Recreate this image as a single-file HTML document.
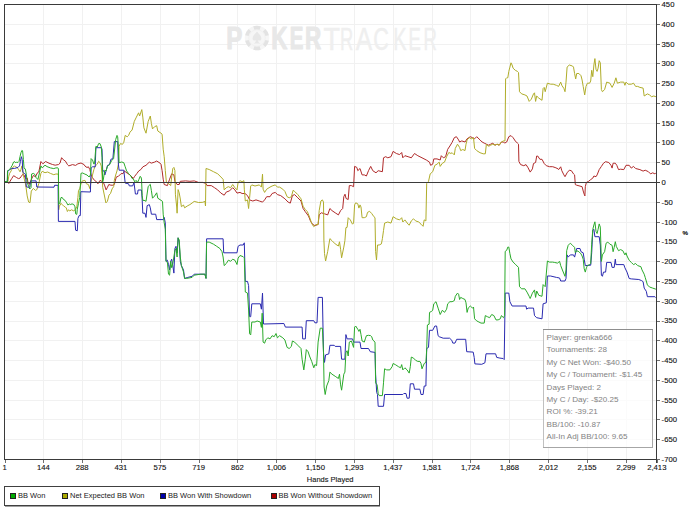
<!DOCTYPE html>
<html><head><meta charset="utf-8"><title>PokerTracker Graph</title>
<style>
html,body{margin:0;padding:0;background:#fff;}
body{width:700px;height:514px;overflow:hidden;position:relative;}
svg{position:absolute;left:0;top:0;display:block;}
text{font-family:"Liberation Sans",Arial,sans-serif;}
.ax{font-size:7.7px;fill:#111;stroke:#111;stroke-width:0.12px;}
.st{font-size:8.1px;fill:#838383;}
.lg{font-size:7.5px;fill:#1a1a1a;}
</style></head><body>
<svg width="700" height="514" viewBox="0 0 700 514">
<rect x="0" y="0" width="700" height="514" fill="#ffffff"/>

<g stroke="#f1f1f1" stroke-width="1" shape-rendering="crispEdges">
<line x1="5" y1="24.5" x2="656" y2="24.5"/>
<line x1="5" y1="44.5" x2="656" y2="44.5"/>
<line x1="5" y1="63.5" x2="656" y2="63.5"/>
<line x1="5" y1="83.5" x2="656" y2="83.5"/>
<line x1="5" y1="103.5" x2="656" y2="103.5"/>
<line x1="5" y1="123.5" x2="656" y2="123.5"/>
<line x1="5" y1="142.5" x2="656" y2="142.5"/>
<line x1="5" y1="162.5" x2="656" y2="162.5"/>
<line x1="5" y1="202.5" x2="656" y2="202.5"/>
<line x1="5" y1="222.5" x2="656" y2="222.5"/>
<line x1="5" y1="241.5" x2="656" y2="241.5"/>
<line x1="5" y1="261.5" x2="656" y2="261.5"/>
<line x1="5" y1="281.5" x2="656" y2="281.5"/>
<line x1="5" y1="301.5" x2="656" y2="301.5"/>
<line x1="5" y1="321.5" x2="656" y2="321.5"/>
<line x1="5" y1="340.5" x2="656" y2="340.5"/>
<line x1="5" y1="360.5" x2="656" y2="360.5"/>
<line x1="5" y1="380.5" x2="656" y2="380.5"/>
<line x1="5" y1="400.5" x2="656" y2="400.5"/>
<line x1="5" y1="419.5" x2="656" y2="419.5"/>
<line x1="5" y1="439.5" x2="656" y2="439.5"/>
<line x1="43.5" y1="5" x2="43.5" y2="459"/>
<line x1="82.5" y1="5" x2="82.5" y2="459"/>
<line x1="121.5" y1="5" x2="121.5" y2="459"/>
<line x1="160.5" y1="5" x2="160.5" y2="459"/>
<line x1="199.5" y1="5" x2="199.5" y2="459"/>
<line x1="237.5" y1="5" x2="237.5" y2="459"/>
<line x1="276.5" y1="5" x2="276.5" y2="459"/>
<line x1="315.5" y1="5" x2="315.5" y2="459"/>
<line x1="354.5" y1="5" x2="354.5" y2="459"/>
<line x1="393.5" y1="5" x2="393.5" y2="459"/>
<line x1="432.5" y1="5" x2="432.5" y2="459"/>
<line x1="470.5" y1="5" x2="470.5" y2="459"/>
<line x1="509.5" y1="5" x2="509.5" y2="459"/>
<line x1="548.5" y1="5" x2="548.5" y2="459"/>
<line x1="587.5" y1="5" x2="587.5" y2="459"/>
<line x1="626.5" y1="5" x2="626.5" y2="459"/>
</g>
<g id="wm">
<g fill="#e8e8e8" stroke="#e8e8e8" stroke-width="1.0" stroke-linejoin="round" font-family="Liberation Sans, Arial, sans-serif" font-weight="bold" font-size="31.0px">
<text transform="translate(226.18,49.1) scale(0.781,1)">P</text>
<text transform="translate(271.20,49.1) scale(0.724,1)">K</text>
<text transform="translate(289.63,49.1) scale(0.661,1)">E</text>
<text transform="translate(304.89,49.1) scale(0.726,1)">R</text>
</g>
<g fill="#efefef" stroke="#efefef" stroke-width="0.45" font-family="Liberation Sans, Arial, sans-serif" font-size="31.6px">
<text transform="translate(323.61,49.6) scale(0.855,1)">T</text>
<text transform="translate(339.90,49.6) scale(0.581,1)">R</text>
<text transform="translate(355.65,49.6) scale(0.778,1)">A</text>
<text transform="translate(373.20,49.6) scale(0.685,1)">C</text>
<text transform="translate(393.36,49.6) scale(0.634,1)">K</text>
<text transform="translate(408.49,49.6) scale(0.584,1)">E</text>
<text transform="translate(423.48,49.6) scale(0.586,1)">R</text>
</g>
<g transform="translate(257,38)">
<circle r="12.3" fill="#f6f6f6"/>
<circle r="8.3" fill="none" stroke="#f1f1f1" stroke-width="1"/>
<g fill="none" stroke="#e3e3e3" stroke-width="3.6">
<path d="M -3.2,-10.0 A 10.5,10.5 0 0 1 3.2,-10.0"/>
<path d="M -3.2,10.0 A 10.5,10.5 0 0 0 3.2,10.0"/>
<path d="M 7.1,-7.7 A 10.5,10.5 0 0 1 10.1,-2.4"/>
<path d="M -7.1,-7.7 A 10.5,10.5 0 0 0 -10.1,-2.4"/>
<path d="M 7.1,7.7 A 10.5,10.5 0 0 0 10.1,2.4"/>
<path d="M -7.1,7.7 A 10.5,10.5 0 0 1 -10.1,2.4"/>
</g>
<path d="M0,-6.6 C1.6,-4.2 4.4,-2.6 4.4,0.4 C4.4,2.6 2.0,3.2 0.7,2.0 L1.8,4.6 L3.4,5.4 L-3.4,5.4 L-1.8,4.6 L-0.7,2.0 C-2.0,3.2 -4.4,2.6 -4.4,0.4 C-4.4,-2.6 -1.6,-4.2 0,-6.6 Z" fill="#e7e7e7"/>
</g>
</g>
<polyline fill="none" stroke="#b02a2a" stroke-width="1" stroke-linejoin="round" points="5.0,181.5 7.3,182.0 8.8,183.5 10.2,181.0 11.7,178.6 13.6,175.7 15.1,176.6 16.6,177.6 18.5,178.6 20.0,178.1 21.4,176.2 22.9,174.2 23.9,174.7 24.8,177.1 25.8,178.6 27.3,178.1 27.9,182.2 29.3,184.3 31.3,179.5 33.4,175.4 35.4,176.8 37.5,172.7 38.8,172.0 40.9,161.5 42.9,163.8 45.6,161.5 49.0,163.2 52.5,164.5 55.2,165.2 58.6,164.5 60.0,163.2 61.6,157.7 63.4,159.8 65.4,161.1 67.4,164.5 68.8,165.9 72.5,164.6 75.6,165.4 77.9,163.8 81.0,163.0 84.1,164.6 85.0,166.1 87.0,167.5 88.4,166.8 89.8,169.5 91.1,175.0 92.5,177.7 94.5,180.4 96.6,181.8 97.9,183.8 100.0,180.4 101.3,181.1 103.4,182.5 104.8,185.9 106.1,189.9 107.5,187.2 108.8,184.5 110.9,185.2 112.9,185.2 114.3,184.5 115.0,181.8 116.3,177.0 118.4,176.3 119.7,175.0 121.1,173.6 123.1,173.6 124.5,170.9 125.9,172.2 127.9,173.6 130.0,175.0 132.0,177.0 133.4,178.4 134.7,176.3 136.8,173.6 138.8,170.9 140.9,169.5 142.9,166.8 146.0,165.3 149.3,162.1 151.4,163.1 154.6,162.1 156.7,161.0 160.0,163.1 161.0,164.2 162.1,170.6 163.2,179.2 164.2,184.5 167.4,185.6 169.6,179.2 171.7,173.8 173.9,174.9 174.9,181.3 177.1,184.5 179.2,184.5 180.3,181.3 185.6,180.9 189.9,181.3 194.2,180.9 198.5,182.4 202.8,182.4 206.0,183.5 207.0,185.6 211.3,185.6 214.5,187.7 217.7,189.9 220.9,193.1 224.2,195.2 226.3,192.0 229.5,190.9 232.7,187.7 234.9,189.9 237.0,193.1 240.0,192.4 242.1,193.5 245.0,193.5 247.5,195.6 249.6,199.9 252.8,201.0 256.0,199.9 259.3,201.0 262.5,202.1 264.6,199.9 266.7,196.7 270.0,196.7 272.1,193.5 275.3,192.4 277.4,194.6 280.7,195.6 284.9,198.8 288.1,202.1 290.3,203.1 292.4,195.6 294.6,194.6 297.8,197.8 301.0,201.0 303.1,208.5 305.3,211.7 308.5,216.0 310.6,221.3 312.8,224.5 314.9,225.6 318.1,224.5 319.2,214.9 321.3,212.8 324.5,213.8 327.7,214.9 329.9,208.5 332.0,210.6 335.2,212.8 338.4,214.9 340.6,210.6 342.7,208.5 343.8,196.7 345.0,194.2 346.1,198.5 348.2,199.5 349.3,185.6 351.4,185.6 353.6,186.7 354.6,166.4 356.8,167.4 357.8,170.7 360.0,168.5 362.1,174.9 364.3,174.9 366.4,176.0 368.5,170.7 370.7,166.4 372.8,170.7 376.0,172.8 378.2,170.7 382.4,171.7 383.5,157.8 385.7,156.7 387.8,157.8 391.0,156.7 393.1,151.4 396.4,153.5 399.6,154.6 401.7,152.5 402.8,157.8 404.9,155.7 408.1,156.7 411.3,157.8 414.5,153.5 417.8,155.7 422.0,157.8 426.3,160.0 429.5,162.1 430.6,165.3 432.7,164.2 433.8,158.9 437.0,158.9 440.2,160.0 441.3,155.7 443.4,157.8 445.6,156.7 447.7,149.3 449.9,146.0 452.0,142.5 454.3,137.7 456.4,136.7 458.6,139.9 459.6,142.0 461.8,140.9 465.0,142.0 467.1,138.8 470.3,136.7 472.5,137.7 474.6,138.8 476.7,136.7 480.0,139.9 482.1,142.0 484.2,143.1 486.4,144.2 488.5,145.2 490.7,144.2 492.8,143.1 494.9,145.2 497.1,144.2 499.2,145.2 501.4,142.0 503.5,142.0 504.6,143.1 506.7,142.0 508.8,136.7 511.0,135.6 513.1,137.7 515.3,141.0 517.4,143.1 518.5,144.2 518.9,161.4 520.6,164.6 523.8,165.7 526.0,164.6 528.1,167.8 530.2,172.1 532.4,168.9 533.5,163.5 535.6,162.5 536.7,156.0 537.7,156.0 539.9,159.3 542.0,159.3 544.2,163.5 546.3,165.7 549.5,166.7 552.7,166.7 555.9,167.8 558.1,168.9 558.6,169.6 560.7,166.8 561.8,170.7 563.9,174.9 565.0,176.7 567.1,172.8 569.3,170.2 571.4,170.7 573.5,173.9 574.6,174.9 575.3,184.6 576.7,185.2 580.0,186.1 582.1,186.7 583.2,191.0 584.2,194.2 584.9,195.9 585.3,186.7 586.4,182.4 588.5,181.4 590.7,179.6 592.8,178.1 593.9,176.0 596.0,176.7 597.1,174.9 599.2,169.6 601.4,166.4 603.5,163.2 605.6,161.7 608.8,162.5 611.0,165.3 612.1,168.1 613.1,163.2 615.3,163.2 616.8,165.3 618.5,169.6 620.6,169.2 623.8,169.6 626.0,165.3 629.2,165.3 631.3,168.1 633.5,166.4 635.6,168.5 639.9,169.6 643.1,171.1 645.2,170.2 648.4,171.7 650.6,173.9 652.7,172.8 654.9,173.9 655.9,172.8"/>
<polyline fill="none" stroke="#b0ad2a" stroke-width="1" stroke-linejoin="round" points="5.0,181.5 7.8,182.0 8.8,176.2 9.7,173.2 11.2,170.8 12.7,167.4 14.6,165.9 15.6,166.9 17.0,167.4 18.5,169.3 20.0,171.8 20.9,169.8 21.9,165.9 22.4,168.4 23.4,175.2 24.3,179.1 25.3,183.0 26.1,187.8 27.2,195.9 28.6,202.0 30.0,202.7 31.3,191.1 33.4,188.4 35.4,190.4 36.8,189.7 38.8,183.6 40.9,173.4 42.2,171.3 45.0,172.7 47.7,172.0 50.4,173.4 53.8,174.7 55.9,174.0 57.9,174.0 58.4,175.0 58.7,209.8 59.3,205.7 60.4,205.1 61.0,203.3 62.2,204.5 63.9,206.3 65.1,206.8 66.3,208.0 67.4,211.5 68.6,209.8 69.8,210.9 71.5,209.8 73.8,210.9 75.6,209.2 76.8,206.8 77.9,197.5 78.5,190.5 79.7,188.8 80.8,184.7 82.0,181.2 84.9,180.3 86.4,183.8 88.4,184.5 89.8,188.6 91.1,181.8 92.5,175.0 93.9,169.5 95.2,166.1 97.3,164.1 98.6,161.3 100.0,162.7 101.3,166.1 102.0,175.0 102.7,187.2 104.1,194.0 105.9,202.9 107.4,201.3 109.0,195.1 110.5,193.5 112.1,188.9 113.7,186.5 114.3,180.4 115.7,175.0 117.0,170.9 118.4,164.1 119.1,146.3 120.4,143.6 122.5,144.3 123.8,142.3 125.2,135.4 127.2,136.8 128.6,135.4 130.0,132.1 132.1,130.0 134.3,121.4 136.4,117.1 138.6,112.8 139.6,116.0 141.8,109.6 142.8,117.1 143.9,127.8 146.0,133.2 148.2,121.4 150.3,116.0 151.4,123.5 152.5,128.9 154.6,126.7 156.7,125.7 157.8,131.0 161.0,133.2 162.1,134.2 163.2,149.2 164.2,156.7 165.3,170.6 166.4,182.4 168.5,183.5 170.7,185.6 171.7,177.0 172.8,168.5 173.9,167.4 174.9,170.6 175.4,194.2 176.7,207.0 177.1,213.2 178.1,189.6 179.2,192.8 180.3,199.0 181.4,206.7 183.5,205.0 184.6,207.8 187.8,205.7 189.9,204.6 192.1,203.0 194.2,201.4 198.5,202.5 202.8,202.3 204.9,201.4 205.5,206.0 206.0,168.5 209.2,169.5 213.5,171.7 217.7,173.8 222.0,178.1 223.1,179.2 224.2,189.9 226.3,187.7 228.4,186.7 230.6,187.7 232.7,184.5 234.9,187.7 237.0,189.9 238.1,182.4 240.0,180.7 242.1,181.7 243.9,180.7 244.3,189.2 245.3,201.0 247.5,199.9 248.6,208.5 249.6,197.8 250.7,186.0 251.8,184.9 255.0,186.0 259.3,184.9 261.4,187.1 262.5,174.2 263.1,189.2 264.6,192.4 266.7,189.2 270.0,187.1 272.1,186.0 275.3,184.9 277.4,187.1 279.6,187.1 282.8,189.2 284.9,191.4 287.1,196.7 289.2,197.8 291.4,196.7 293.1,190.3 294.6,191.4 297.8,194.6 301.0,198.8 303.1,206.3 305.3,209.5 307.4,211.7 309.5,217.0 311.7,223.5 313.8,226.7 316.0,224.5 318.1,224.5 319.2,210.6 320.9,201.0 322.4,199.9 323.5,202.1 323.9,240.0 324.5,253.5 325.6,261.0 327.7,251.4 329.9,238.6 332.0,240.7 335.2,243.9 338.4,246.0 339.5,241.8 340.6,249.3 341.6,257.8 343.8,247.1 344.9,240.7 345.9,227.7 347.1,227.4 348.2,217.7 350.3,219.9 352.5,224.2 353.6,223.1 354.6,204.9 355.7,202.8 357.8,203.8 358.9,208.1 360.0,204.9 361.0,207.0 362.1,217.7 364.3,217.7 366.4,216.7 367.5,212.4 369.6,211.3 371.7,213.5 373.9,216.7 375.0,217.7 375.6,251.4 376.5,260.0 377.5,245.0 379.2,245.0 381.4,243.9 382.4,238.6 383.5,230.6 384.6,223.1 387.8,222.0 391.0,223.1 393.1,216.7 396.4,218.8 399.6,219.9 401.7,217.7 402.8,222.0 404.9,219.9 408.1,224.2 409.2,225.2 411.3,220.9 413.5,218.8 415.6,220.9 418.8,222.0 421.0,224.2 423.1,226.3 424.2,219.9 425.9,220.9 426.7,183.5 428.5,181.4 430.2,173.9 432.7,171.7 434.9,165.3 437.0,164.2 439.2,162.1 440.2,166.4 442.4,163.2 444.5,162.1 446.6,156.7 448.8,152.5 450.9,153.5 452.1,152.7 454.3,154.9 455.3,148.4 457.5,144.2 459.6,147.4 460.7,150.6 462.8,149.5 465.0,150.6 466.0,144.2 467.1,139.9 469.3,137.7 471.4,138.8 473.5,137.7 474.6,148.4 476.7,150.6 480.0,152.7 483.2,153.8 485.3,153.8 486.4,144.2 488.5,146.3 490.7,145.2 492.8,144.2 494.9,145.2 497.1,144.2 499.2,145.2 501.4,142.0 503.5,140.9 505.0,140.9 505.6,78.9 506.7,77.8 507.8,77.8 508.8,71.4 509.9,67.1 511.0,62.8 512.1,65.0 513.1,68.2 515.3,70.3 517.4,71.4 518.5,72.5 519.5,91.7 521.7,93.9 524.9,94.9 527.0,96.0 529.2,101.4 531.3,99.2 533.5,93.9 534.5,92.8 535.6,101.4 536.7,96.0 538.8,98.1 542.0,100.3 543.1,88.5 544.2,87.4 545.2,91.7 547.4,83.2 550.6,84.2 553.2,84.2 556.4,85.3 558.6,86.4 560.7,82.1 561.8,85.3 563.9,88.5 565.0,91.7 566.0,82.1 567.1,67.1 569.3,65.0 572.5,66.0 573.5,67.1 574.6,73.5 575.7,78.9 576.7,73.5 578.9,73.5 581.0,75.7 582.1,80.0 583.2,86.4 584.7,94.9 586.0,86.4 587.4,83.2 589.6,83.2 590.7,81.0 591.7,70.3 592.8,76.7 593.9,65.0 594.9,58.6 596.0,69.3 597.1,71.4 598.1,68.2 599.2,60.7 600.3,62.8 601.4,89.6 602.4,91.7 604.6,89.6 606.7,82.1 609.9,83.2 612.1,87.4 614.2,83.2 615.9,77.8 617.4,83.2 620.6,82.1 623.8,82.1 624.9,85.3 626.0,82.1 628.1,84.2 631.3,84.2 633.5,83.2 635.6,86.4 637.7,86.4 639.9,87.4 643.1,88.1 644.2,96.0 647.4,93.9 649.5,94.9 651.6,96.7 653.8,96.0 655.9,96.7"/>
<polyline fill="none" stroke="#2a2ab0" stroke-width="1" stroke-linejoin="round" points="5.0,181.5 7.3,181.5 7.8,170.8 9.7,169.8 11.7,168.4 14.6,168.4 18.0,167.4 19.5,165.9 20.4,161.5 21.4,156.7 22.2,159.6 22.9,172.3 23.9,173.2 24.8,173.7 25.5,174.2 26.3,186.9 29.7,187.4 30.7,180.9 36.1,180.9 36.8,187.0 54.0,187.2 54.6,185.3 58.1,185.3 58.4,221.4 75.0,221.4 75.6,230.2 77.3,230.8 77.9,218.5 79.1,215.6 80.3,215.6 80.8,191.7 90.4,192.0 91.1,168.1 92.5,166.8 95.2,166.8 95.9,147.7 101.3,147.7 102.0,149.1 102.7,170.9 104.1,170.9 104.8,175.0 106.1,170.9 107.5,165.4 109.5,164.7 110.9,159.3 112.9,158.6 114.3,141.6 117.7,141.6 118.4,164.1 119.1,170.2 123.8,170.2 125.2,183.1 128.6,183.8 129.3,185.9 132.7,185.9 134.0,182.5 135.4,194.0 137.5,194.0 138.1,190.0 141.5,190.0 142.2,200.0 142.8,213.2 145.0,213.2 146.0,217.4 147.1,205.7 149.3,204.6 150.3,207.8 151.4,214.2 155.7,214.2 156.7,219.6 163.2,219.6 164.2,217.4 165.3,222.8 166.0,261.3 167.4,260.2 168.5,264.5 169.6,269.9 170.7,261.3 171.7,259.2 172.8,265.6 173.9,273.1 174.9,248.5 176.0,246.3 177.1,252.8 178.1,237.8 179.2,242.1 180.3,261.3 181.4,265.6 183.5,269.9 184.6,278.4 187.8,277.4 192.1,276.3 194.2,274.2 204.9,274.2 206.0,278.4 206.6,238.8 223.1,238.8 223.7,252.8 237.0,252.8 238.1,246.3 240.0,245.0 243.2,245.0 244.3,242.8 245.3,281.4 247.5,281.4 248.6,285.6 249.6,316.7 250.7,316.7 251.8,303.8 260.3,303.8 261.4,309.2 262.5,293.1 263.5,324.0 283.9,323.5 285.4,327.1 302.1,327.1 302.7,338.9 305.3,338.9 306.3,320.7 313.8,320.7 314.9,322.8 317.0,322.8 318.1,297.4 322.4,297.4 323.5,352.8 324.5,362.4 325.6,354.9 328.8,353.9 329.9,345.3 334.2,345.3 335.2,346.4 340.6,346.4 341.6,359.2 344.9,359.2 345.9,334.6 347.1,338.9 352.5,338.9 353.6,342.1 360.0,342.1 361.0,348.5 368.5,348.5 370.3,351.7 375.0,352.4 375.6,374.2 376.7,392.4 377.5,394.5 378.2,406.3 383.5,406.3 384.6,394.5 402.8,394.5 403.8,393.5 406.0,393.5 407.1,398.2 409.2,398.2 410.3,383.8 413.5,383.8 414.5,389.2 419.9,389.2 421.0,394.5 423.1,394.5 424.2,386.0 425.9,386.0 426.7,348.5 428.5,347.4 429.5,330.3 432.7,330.3 434.9,326.0 436.6,326.0 438.1,335.7 439.2,336.7 443.2,338.2 449.6,338.2 451.8,340.3 452.8,343.1 455.0,343.1 456.7,339.3 465.7,339.3 466.7,351.7 473.2,352.1 474.2,357.4 474.9,363.9 481.7,364.3 484.9,362.8 486.0,353.8 495.6,353.8 496.7,357.4 499.9,358.1 503.1,358.5 504.2,359.6 504.8,320.0 505.2,293.1 508.8,293.1 509.9,301.7 512.1,306.0 526.0,306.0 526.6,309.2 528.1,308.1 533.5,308.1 534.5,315.6 536.7,317.7 542.0,318.8 543.1,303.8 546.3,302.8 547.4,276.0 550.6,276.0 556.4,277.4 559.6,278.0 560.7,281.0 565.0,281.0 566.0,278.5 567.1,254.9 568.2,257.1 570.3,254.9 573.5,254.9 574.6,257.1 576.7,248.5 580.0,248.5 581.0,251.7 583.2,252.8 584.2,259.2 585.3,265.6 590.7,265.2 591.7,252.8 592.8,230.3 593.9,229.3 594.9,236.7 599.2,236.7 600.3,245.0 601.4,275.3 602.4,276.3 603.5,272.1 605.6,272.1 606.7,262.4 611.0,262.4 612.1,267.4 614.2,267.4 615.3,259.2 615.9,264.6 623.8,264.6 624.9,267.8 627.0,272.1 629.2,278.5 631.3,278.9 638.8,279.5 641.6,280.6 643.1,281.7 644.2,288.1 646.3,291.3 647.4,296.7 654.9,296.7 655.9,297.7"/>
<polyline fill="none" stroke="#2aaa2a" stroke-width="1" stroke-linejoin="round" points="5.0,181.5 7.3,181.5 7.5,170.8 8.3,170.5 9.7,169.3 10.7,167.9 12.2,165.4 13.6,162.0 14.6,161.5 15.6,163.0 16.6,162.0 18.0,162.5 19.0,161.5 20.0,156.7 20.9,152.8 21.9,150.4 22.6,150.8 23.4,159.6 24.1,168.4 25.3,168.9 26.3,174.2 27.2,182.2 28.6,186.3 29.7,189.0 31.0,187.7 31.6,174.0 33.4,173.4 35.1,174.7 36.1,177.5 37.9,179.5 39.5,172.7 40.9,165.9 42.2,167.9 45.0,165.2 47.0,166.6 50.4,167.9 53.8,168.6 55.9,167.9 57.9,167.9 58.4,168.6 58.7,204.5 59.8,203.3 61.0,197.5 62.2,197.5 63.3,199.3 65.1,200.4 66.3,202.2 68.0,205.1 69.2,203.9 70.3,204.5 72.1,203.9 73.8,204.5 75.0,206.8 75.6,213.8 76.8,214.4 77.3,209.2 78.5,203.3 79.7,197.5 80.3,187.0 81.0,173.3 82.6,173.0 84.9,174.1 87.0,175.0 89.1,177.0 90.4,175.0 91.1,158.6 92.5,160.0 93.9,164.1 94.6,163.0 95.9,146.3 97.3,147.0 98.6,143.6 100.0,143.6 101.3,147.0 102.0,157.2 102.7,181.8 103.4,179.0 104.8,170.2 106.1,170.9 107.5,166.1 109.5,164.7 111.6,160.7 113.6,158.6 115.7,139.5 117.0,135.4 117.7,136.8 118.4,147.7 119.1,162.7 121.8,162.0 123.8,162.7 125.2,166.8 126.6,170.9 128.6,173.6 130.6,175.6 132.0,178.4 133.4,179.0 134.7,181.8 136.1,180.4 137.5,182.5 138.8,179.7 140.2,176.3 140.9,177.0 141.5,179.0 142.2,195.4 142.8,200.3 145.0,200.6 146.0,201.4 148.2,186.4 150.3,184.3 151.4,190.7 152.5,198.2 154.6,196.0 156.7,192.8 157.8,198.2 161.0,200.3 162.5,201.4 163.2,214.2 164.2,222.8 165.3,229.2 166.0,261.3 167.4,262.4 168.5,274.2 169.6,275.2 170.7,261.3 171.7,267.7 172.8,263.5 174.9,250.6 176.0,248.5 177.1,257.0 178.1,237.8 179.2,239.9 180.3,257.0 181.4,265.6 183.5,272.0 184.6,278.4 186.7,278.4 192.1,277.4 194.2,275.2 200.6,274.2 204.9,274.2 206.0,278.4 206.6,242.1 209.2,242.1 213.5,244.2 216.7,246.3 219.9,248.5 222.0,251.7 223.1,257.0 224.2,265.6 226.3,263.5 228.4,260.2 230.6,261.3 232.7,259.2 235.0,260.3 237.0,264.5 238.1,258.1 240.0,255.5 243.2,256.7 244.3,257.8 245.3,292.0 247.5,293.1 248.6,310.0 249.6,333.8 250.7,334.9 251.8,322.0 255.0,322.0 257.1,321.0 260.3,322.0 261.4,327.4 262.2,313.2 263.1,342.1 264.6,343.2 265.7,340.0 267.8,337.8 270.0,338.9 272.1,335.7 274.2,336.7 276.0,333.5 277.4,337.8 279.6,335.7 282.8,337.8 284.9,340.0 287.1,347.4 289.2,348.5 291.4,346.4 292.4,341.0 294.6,342.1 297.8,345.3 301.0,348.5 302.1,359.2 303.8,369.9 305.3,359.2 306.3,349.6 308.1,351.7 309.5,356.0 311.7,361.4 313.8,367.8 314.9,364.6 316.6,365.6 318.1,342.1 320.2,328.2 322.4,328.2 323.5,352.8 324.1,387.0 325.2,394.5 326.7,386.0 328.8,380.6 329.9,372.1 332.0,374.2 335.2,376.3 338.4,378.5 339.5,374.2 340.6,384.9 341.6,390.2 343.8,374.2 344.9,372.1 345.9,352.8 347.1,350.7 348.2,356.0 349.3,342.1 351.4,341.0 353.6,347.4 354.6,327.1 355.7,326.0 357.8,329.3 358.9,331.4 360.0,329.3 361.0,334.6 362.1,341.0 364.3,342.1 365.3,338.9 366.4,335.7 368.5,335.3 370.7,335.7 371.7,336.7 372.8,340.0 375.0,342.1 375.6,382.8 377.1,384.9 378.2,393.5 379.2,395.6 382.4,395.6 383.5,382.8 384.6,368.8 386.7,369.9 389.9,369.9 392.1,366.7 393.1,363.5 395.3,364.6 398.5,366.7 400.6,367.8 401.7,364.6 402.8,369.9 404.9,367.8 407.1,369.9 409.2,373.1 410.3,366.7 411.3,357.1 413.5,358.1 415.6,360.3 417.8,361.4 419.9,361.4 421.0,363.5 422.0,368.8 424.2,363.5 425.9,362.4 426.7,349.6 427.4,325.0 429.1,324.2 429.5,312.4 431.7,311.3 432.7,310.2 433.8,303.8 436.0,301.7 438.1,308.1 440.2,314.5 442.4,310.2 444.5,312.4 446.6,309.2 447.7,303.8 449.9,301.7 452.1,301.7 454.3,300.6 455.3,296.3 457.5,293.1 458.6,294.2 459.6,299.5 460.7,297.4 462.8,298.5 465.0,299.5 466.0,302.8 467.1,312.4 468.2,308.1 470.3,306.0 472.5,308.1 473.5,307.0 474.6,318.8 476.7,320.9 478.9,322.0 481.0,323.1 484.2,323.1 485.3,315.6 487.4,316.7 489.6,317.7 491.7,314.5 493.9,315.6 496.0,319.9 498.1,319.9 500.3,318.8 501.4,315.6 503.5,317.7 504.6,315.6 505.2,251.4 506.7,250.3 507.8,247.1 508.8,247.1 509.9,253.5 511.0,258.9 513.1,262.1 515.3,264.2 518.5,267.4 519.5,286.7 521.7,288.8 524.9,288.8 527.0,292.1 529.2,296.3 530.2,298.5 532.4,293.1 534.5,289.9 535.6,297.4 536.7,291.0 538.8,295.3 542.0,296.3 543.1,284.6 545.2,286.7 547.4,261.0 549.5,262.1 552.7,262.1 554.3,262.4 557.5,263.1 559.6,261.4 560.7,265.6 562.8,271.0 565.0,276.3 566.0,269.9 566.7,250.7 568.2,245.3 570.3,243.2 572.5,245.3 574.6,247.4 575.3,252.8 576.7,250.7 578.9,251.7 581.0,253.9 582.1,256.0 583.2,259.2 584.2,268.8 585.3,272.1 586.4,267.8 587.4,265.6 589.6,264.6 590.7,263.5 591.7,244.2 592.8,229.3 593.9,225.0 594.9,221.8 596.0,231.4 597.1,233.5 598.1,229.3 599.2,223.9 600.3,227.1 601.4,261.4 602.4,254.9 604.6,251.7 606.1,243.2 607.8,242.1 609.9,244.2 612.1,245.3 613.1,251.7 614.2,247.4 615.3,241.7 616.3,246.4 618.5,250.7 620.6,249.6 622.8,250.7 624.9,254.9 626.0,252.8 627.0,256.0 629.2,260.3 631.3,262.4 633.5,264.6 635.6,263.5 637.7,265.6 640.9,266.7 642.0,269.9 644.2,274.2 645.2,277.4 647.4,284.9 649.5,287.0 652.7,288.1 655.9,289.2"/>
<g stroke="#3a3a3a" stroke-width="1" shape-rendering="crispEdges">
<line x1="5" y1="182.5" x2="660" y2="182.5"/>
<line x1="4" y1="4.5" x2="660" y2="4.5"/>
<line x1="4.5" y1="4" x2="4.5" y2="460"/>
<line x1="4" y1="459.5" x2="657" y2="459.5"/>
<line x1="656.5" y1="4" x2="656.5" y2="463"/>
<line x1="657" y1="4.5" x2="660" y2="4.5" stroke="#707070"/>
<line x1="657" y1="24.5" x2="660" y2="24.5" stroke="#707070"/>
<line x1="657" y1="44.5" x2="660" y2="44.5" stroke="#707070"/>
<line x1="657" y1="63.5" x2="660" y2="63.5" stroke="#707070"/>
<line x1="657" y1="83.5" x2="660" y2="83.5" stroke="#707070"/>
<line x1="657" y1="103.5" x2="660" y2="103.5" stroke="#707070"/>
<line x1="657" y1="123.5" x2="660" y2="123.5" stroke="#707070"/>
<line x1="657" y1="142.5" x2="660" y2="142.5" stroke="#707070"/>
<line x1="657" y1="162.5" x2="660" y2="162.5" stroke="#707070"/>
<line x1="657" y1="182.5" x2="660" y2="182.5" stroke="#707070"/>
<line x1="657" y1="202.5" x2="660" y2="202.5" stroke="#707070"/>
<line x1="657" y1="222.5" x2="660" y2="222.5" stroke="#707070"/>
<line x1="657" y1="241.5" x2="660" y2="241.5" stroke="#707070"/>
<line x1="657" y1="261.5" x2="660" y2="261.5" stroke="#707070"/>
<line x1="657" y1="281.5" x2="660" y2="281.5" stroke="#707070"/>
<line x1="657" y1="301.5" x2="660" y2="301.5" stroke="#707070"/>
<line x1="657" y1="321.5" x2="660" y2="321.5" stroke="#707070"/>
<line x1="657" y1="340.5" x2="660" y2="340.5" stroke="#707070"/>
<line x1="657" y1="360.5" x2="660" y2="360.5" stroke="#707070"/>
<line x1="657" y1="380.5" x2="660" y2="380.5" stroke="#707070"/>
<line x1="657" y1="400.5" x2="660" y2="400.5" stroke="#707070"/>
<line x1="657" y1="419.5" x2="660" y2="419.5" stroke="#707070"/>
<line x1="657" y1="439.5" x2="660" y2="439.5" stroke="#707070"/>
<line x1="657" y1="459.5" x2="660" y2="459.5" stroke="#707070"/>
<line x1="5.5" y1="460" x2="5.5" y2="463" stroke="#707070"/>
<line x1="43.5" y1="460" x2="43.5" y2="463" stroke="#707070"/>
<line x1="82.5" y1="460" x2="82.5" y2="463" stroke="#707070"/>
<line x1="121.5" y1="460" x2="121.5" y2="463" stroke="#707070"/>
<line x1="160.5" y1="460" x2="160.5" y2="463" stroke="#707070"/>
<line x1="199.5" y1="460" x2="199.5" y2="463" stroke="#707070"/>
<line x1="237.5" y1="460" x2="237.5" y2="463" stroke="#707070"/>
<line x1="276.5" y1="460" x2="276.5" y2="463" stroke="#707070"/>
<line x1="315.5" y1="460" x2="315.5" y2="463" stroke="#707070"/>
<line x1="354.5" y1="460" x2="354.5" y2="463" stroke="#707070"/>
<line x1="393.5" y1="460" x2="393.5" y2="463" stroke="#707070"/>
<line x1="432.5" y1="460" x2="432.5" y2="463" stroke="#707070"/>
<line x1="470.5" y1="460" x2="470.5" y2="463" stroke="#707070"/>
<line x1="509.5" y1="460" x2="509.5" y2="463" stroke="#707070"/>
<line x1="548.5" y1="460" x2="548.5" y2="463" stroke="#707070"/>
<line x1="587.5" y1="460" x2="587.5" y2="463" stroke="#707070"/>
<line x1="626.5" y1="460" x2="626.5" y2="463" stroke="#707070"/>
<line x1="657.5" y1="460" x2="657.5" y2="463" stroke="#707070"/>
<line x1="656" y1="182.5" x2="660" y2="182.5"/>
</g>
<g class="ax">
<text class="ax" x="661.6" y="6.9">450</text>
<text class="ax" x="661.6" y="26.7">400</text>
<text class="ax" x="661.6" y="46.5">350</text>
<text class="ax" x="661.6" y="66.2">300</text>
<text class="ax" x="661.6" y="86.0">250</text>
<text class="ax" x="661.6" y="105.8">200</text>
<text class="ax" x="661.6" y="125.6">150</text>
<text class="ax" x="661.6" y="145.4">100</text>
<text class="ax" x="661.6" y="165.2">50</text>
<text class="ax" x="661.6" y="184.9">0</text>
<text class="ax" x="661.6" y="204.7">-50</text>
<text class="ax" x="661.6" y="224.5">-100</text>
<text class="ax" x="661.6" y="244.3">-150</text>
<text class="ax" x="661.6" y="264.1">-200</text>
<text class="ax" x="661.6" y="283.9">-250</text>
<text class="ax" x="661.6" y="303.6">-300</text>
<text class="ax" x="661.6" y="323.4">-350</text>
<text class="ax" x="661.6" y="343.2">-400</text>
<text class="ax" x="661.6" y="363.0">-450</text>
<text class="ax" x="661.6" y="382.8">-500</text>
<text class="ax" x="661.6" y="402.6">-550</text>
<text class="ax" x="661.6" y="422.3">-600</text>
<text class="ax" x="661.6" y="442.1">-650</text>
<text class="ax" x="661.6" y="461.9">-700</text>
<text class="ax" x="4.6" y="470.3" text-anchor="middle">1</text>
<text class="ax" x="43.3" y="470.3" text-anchor="middle">144</text>
<text class="ax" x="82.2" y="470.3" text-anchor="middle">288</text>
<text class="ax" x="120.9" y="470.3" text-anchor="middle">431</text>
<text class="ax" x="159.8" y="470.3" text-anchor="middle">575</text>
<text class="ax" x="198.7" y="470.3" text-anchor="middle">719</text>
<text class="ax" x="237.4" y="470.3" text-anchor="middle">862</text>
<text class="ax" x="276.4" y="470.3" text-anchor="middle">1,006</text>
<text class="ax" x="315.3" y="470.3" text-anchor="middle">1,150</text>
<text class="ax" x="354.0" y="470.3" text-anchor="middle">1,293</text>
<text class="ax" x="392.9" y="470.3" text-anchor="middle">1,437</text>
<text class="ax" x="431.8" y="470.3" text-anchor="middle">1,581</text>
<text class="ax" x="470.5" y="470.3" text-anchor="middle">1,724</text>
<text class="ax" x="509.4" y="470.3" text-anchor="middle">1,868</text>
<text class="ax" x="548.4" y="470.3" text-anchor="middle">2,012</text>
<text class="ax" x="587.0" y="470.3" text-anchor="middle">2,155</text>
<text class="ax" x="626.0" y="470.3" text-anchor="middle">2,299</text>
<text class="ax" x="656.8" y="470.3" text-anchor="middle">2,413</text>
<text x="330.2" y="482.2" text-anchor="middle" font-size="7.5px" fill="#222">Hands Played</text>
<text x="-2.67" y="2.07" transform="translate(685.2,232.8) scale(1.03,0.86)" font-size="6px" font-weight="bold" fill="#111">%</text>
</g>
<rect x="543" y="329" width="110" height="119" fill="#ffffff" fill-opacity="0.72" shape-rendering="crispEdges"/>
<g shape-rendering="crispEdges" stroke-width="1">
<line x1="543" y1="329.5" x2="653" y2="329.5" stroke="#8e8e8e"/>
<line x1="543.5" y1="330" x2="543.5" y2="447" stroke="#c0c0c0"/>
<line x1="652.5" y1="330" x2="652.5" y2="447" stroke="#a6a6a6"/>
<line x1="543" y1="447.5" x2="653" y2="447.5" stroke="#a6a6a6"/>
</g>
<text class="st" x="546.6" y="339.90">Player: grenka666</text>
<text class="st" x="546.6" y="352.31">Tournaments: 28</text>
<text class="st" x="546.6" y="364.72">My C Net Won: -$40.50</text>
<text class="st" x="546.6" y="377.13">My C / Tournament: -$1.45</text>
<text class="st" x="546.6" y="389.54">Days Played: 2</text>
<text class="st" x="546.6" y="401.95">My C / Day: -$20.25</text>
<text class="st" x="546.6" y="414.36">ROI %: -39.21</text>
<text class="st" x="546.6" y="426.77">BB/100: -10.87</text>
<text class="st" x="546.6" y="439.18">All-In Adj BB/100: 9.65</text>
<rect x="4.5" y="486.5" width="375" height="19" fill="#ffffff" stroke="#404040" stroke-width="1" shape-rendering="crispEdges"/>
<line x1="5" y1="506.5" x2="380" y2="506.5" stroke="#a0a0a0" stroke-width="1" shape-rendering="crispEdges"/>
<rect x="10.5" y="493.5" width="5" height="5" fill="#00aa00" stroke="#222" stroke-width="1" shape-rendering="crispEdges"/>
<text class="lg" x="18" y="498.3">BB Won</text>
<rect x="62.5" y="493.5" width="5" height="5" fill="#aaaa00" stroke="#222" stroke-width="1" shape-rendering="crispEdges"/>
<text class="lg" x="70" y="498.3">Net Expected BB Won</text>
<rect x="160.5" y="493.5" width="5" height="5" fill="#0000aa" stroke="#222" stroke-width="1" shape-rendering="crispEdges"/>
<text class="lg" x="168" y="498.3">BB Won With Showdown</text>
<rect x="271.5" y="493.5" width="5" height="5" fill="#aa0000" stroke="#222" stroke-width="1" shape-rendering="crispEdges"/>
<text class="lg" x="278.5" y="498.3">BB Won Without Showdown</text>
</svg>
</body></html>
